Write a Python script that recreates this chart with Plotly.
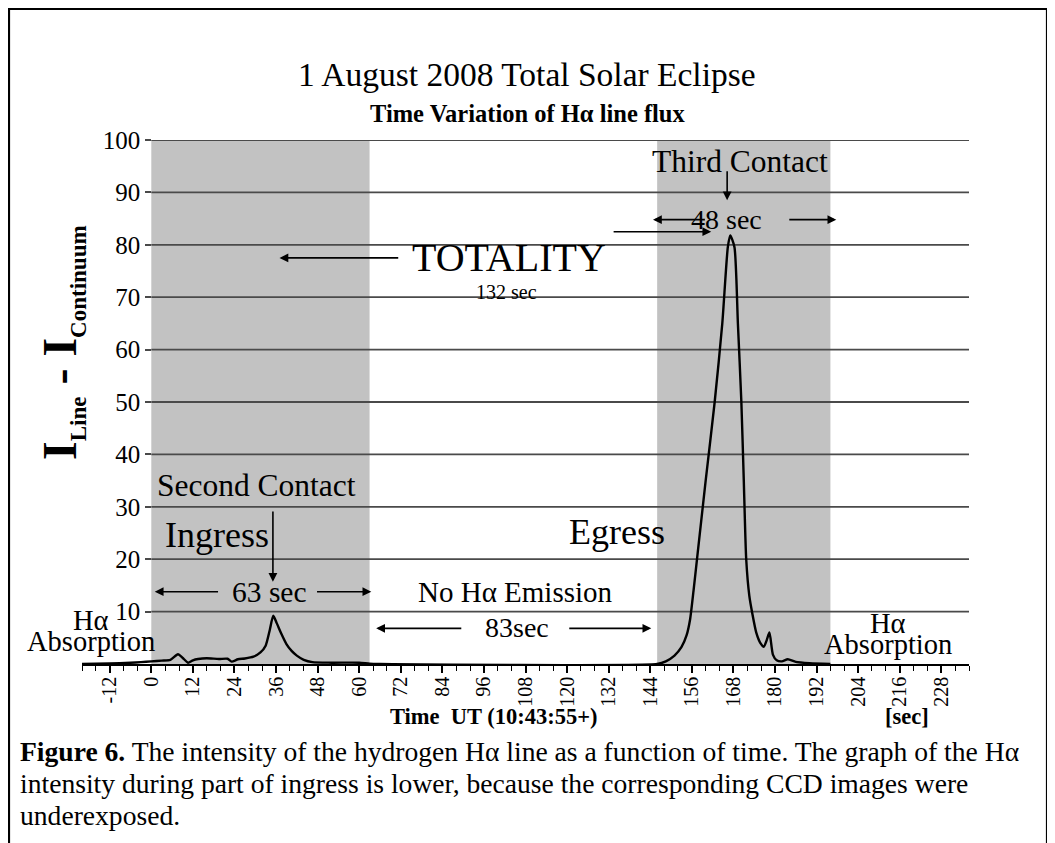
import plotly.graph_objects as go

# ---------------- data ----------------
time_s = [-20, -12, -6, -3, 0, 3, 5.5, 7.7, 9, 10.6, 12, 13.5, 16, 19.5, 22, 23.2, 25, 27,
          29.5, 31.5, 33, 34.2, 35.2, 36.2, 37.5, 39, 40.5, 42, 44, 46.5, 52, 60, 63, 66,
          146, 148.5, 151, 153, 154.5, 155.5, 156.5, 157.5, 160, 162.6, 164.8, 166.4, 167.1,
          168.3, 169.3, 170.3, 171, 171.7, 172.6, 173.5, 174.6, 175.8, 176.8, 177.6, 178.4,
          179.4, 180.5, 182, 183.7, 186, 190, 196]
flux = [0.0, 0.1, 0.25, 0.35, 0.5, 0.65, 0.8, 1.85, 1.2, 0.25, 0.7, 0.95, 1.1, 0.95, 1.0, 0.45, 0.9, 1.05,
        1.4, 2.2, 3.5, 6.5, 9.2, 7.8, 5.8, 3.8, 2.5, 1.6, 0.8, 0.35, 0.25, 0.25, 0.05, 0.0,
        0.0, 0.5, 1.6, 3.2, 5.5, 8.5, 14, 20, 35, 50, 65, 79.6, 81.8,
        79.6, 65, 50, 35, 20, 13, 9.5, 6.0, 4.0, 3.3, 4.5, 6.0,
        1.8, 0.7, 0.5, 0.9, 0.4, 0.15, 0.0]

x_tick_vals = [-12, 0, 12, 24, 36, 48, 60, 72, 84, 96, 108, 120, 132, 144, 156, 168, 180, 192, 204, 216, 228]
x_tick_text = [str(v) for v in x_tick_vals]
y_tick_vals = [10, 20, 30, 40, 50, 60, 70, 80, 90, 100]
x_range = [-20, 236]
y_range = [0, 100]
ingress_shade = [0, 63]
egress_shade = [146, 196]

SERIF = "Liberation Serif"
W, H = 1055, 843
OFF = 8                      # page body margin of the html page
ML, MT = 82 - OFF, 140 - OFF
PW, PH = 887, 524
MR = W - ML - PW
MB = H - MT - PH


def P(px, py):
    """screen pixel -> paper coordinates"""
    return (px - OFF - ML) / PW, (H - MB - (py - OFF)) / PH


fig = go.Figure()
fig.add_trace(go.Scatter(x=time_s, y=flux, mode="lines",
                         line=dict(color="black", width=2.4, shape="spline", smoothing=0.6),
                         hoverinfo="skip"))

shapes = []
for a, b in (ingress_shade, egress_shade):
    shapes.append(dict(type="rect", xref="x", yref="y", x0=a, x1=b, y0=y_range[0], y1=y_range[1],
                       fillcolor="#c2c2c2", line=dict(width=0), layer="below"))
for yv in y_tick_vals:
    shapes.append(dict(type="line", xref="x", yref="y", x0=0, x1=x_range[1], y0=yv, y1=yv,
                       line=dict(color="#4a4a4a", width=1.8), layer="below"))
# outer frame
x_l, y_t = P(OFF + 1, OFF + 1)
x_r, _ = P(1047, 5)
_, y_b = P(5, 900)
shapes.append(dict(type="path", xref="paper", yref="paper",
                   path=f"M {x_l} {y_b} L {x_l} {y_t} L {x_r} {y_t} L {x_r} {y_b}",
                   line=dict(color="black", width=2.2)))

ann = []


def text_px(t, px, py, size, bold=False, xanchor="center", angle=0):
    x, y = P(px, py)
    ann.append(dict(text=f"<b>{t}</b>" if bold else t, x=x, y=y, xref="paper", yref="paper",
                    xanchor=xanchor, yanchor="middle", showarrow=False, textangle=angle,
                    font=dict(family=SERIF, size=size, color="black")))


def text_d(t, x, y, size, xanchor="center"):
    ann.append(dict(text=t, x=x, y=y, xref="x", yref="y", xanchor=xanchor, yanchor="middle",
                    showarrow=False, font=dict(family=SERIF, size=size, color="black")))


def arrow(x_tail, y_tail, x_head, y_head):
    ann.append(dict(text="", x=x_head, y=y_head, ax=x_tail, ay=y_tail, xref="x", yref="y",
                    axref="x", ayref="y", showarrow=True, arrowhead=2, arrowsize=1.1,
                    arrowwidth=1.6, arrowcolor="black", standoff=0, startstandoff=0))


# titles
text_px("1 August 2008 Total Solar Eclipse", 527, 75, 33.5)
text_px("Time Variation of Hα line flux", 527, 113, 24.5, bold=True)
text_px("I<sub><span style='font-size:23px'>Line</span></sub> - I<sub><span style='font-size:23px'>Continuum</span></sub>",
        62, 343, 48, bold=True, angle=-90)
text_px("Time  UT (10:43:55+)", 494, 716, 22.5, bold=True)
text_px("[sec]", 907, 716, 22.5, bold=True)

# caption
cap_font = 27.6
cap_lines = ["<b>Figure 6.</b> The intensity of the hydrogen Hα line as a function of time. The graph of the Hα",
             "intensity during part of ingress is lower, because the corresponding CCD images were",
             "underexposed."]
for i, line in enumerate(cap_lines):
    cx, cy = P(18, 751 + 32 * i)
    ann.append(dict(text=line, x=cx, y=cy, xref="paper", yref="paper", xanchor="left", yanchor="middle",
                    showarrow=False, font=dict(family=SERIF, size=cap_font, color="black")))

# in-plot labels
text_d("Second Contact", 1, 34.0, 31.5, xanchor="left")
text_d("Ingress", 3.5, 24.6, 36, xanchor="left")
text_d("63 sec", 34.2, 13.8, 29.5)
text_d("No Hα Emission", 105, 13.8, 29)
text_d("83sec", 105.5, 6.9, 28)
text_d("TOTALITY", 103.1, 77.5, 40)
text_d("132 sec", 102.5, 70.9, 20)
text_d("Third Contact", 169.8, 95.9, 31.5)
text_d("48 sec", 166.0, 84.9, 28)
text_d("Egress", 134.4, 25.2, 36)
text_d("Hα", -17.5, 8.3, 28.5)
text_d("Absorption", -17.5, 4.3, 28.5)
text_d("Hα", 212.6, 7.7, 28.5)
text_d("Absorption", 212.6, 3.8, 28.5)

# arrows
arrow(19.7, 13.8, 1.0, 13.8)
arrow(47.4, 13.8, 63.5, 13.8)
arrow(35.1, 29.4, 35.1, 15.7)
arrow(89.9, 6.8, 64.9, 6.8)
arrow(120.2, 6.8, 144.3, 6.8)
arrow(71.7, 77.5, 37.0, 77.5)
arrow(133.0, 82.5, 161.6, 82.5)
arrow(166.2, 94.3, 166.2, 88.5)
arrow(160.2, 84.8, 144.8, 84.8)
arrow(183.7, 84.8, 197.7, 84.8)

fig.update_layout(
    width=W, height=H, autosize=False,
    margin=dict(l=ML, r=MR, t=MT, b=MB, pad=0),
    plot_bgcolor="white", paper_bgcolor="white", showlegend=False,
    shapes=shapes, annotations=ann,
    xaxis=dict(range=x_range, showgrid=False, zeroline=False, showline=True, linecolor="black",
               linewidth=1.6, ticks="outside", ticklen=7, tickwidth=1.5, tickcolor="black",
               tickmode="array", tickvals=x_tick_vals, ticktext=x_tick_text, tickangle=-90,
               ticklabelstandoff=-4,
               tickfont=dict(family=SERIF, size=20, color="black"),
               minor=dict(tick0=0, dtick=4, ticks="outside", ticklen=5, tickwidth=1.2,
                          tickcolor="black", showgrid=False)),
    yaxis=dict(range=y_range, anchor="free", position=(0 - x_range[0]) / (x_range[1] - x_range[0]),
               showgrid=False, zeroline=False, showline=False, ticks="outside", ticklen=6,
               tickwidth=1.5, tickcolor="#4a4a4a", tickmode="array", tickvals=y_tick_vals,
               tickfont=dict(family=SERIF, size=25, color="black")),
)

fig.write_html("out.html")
